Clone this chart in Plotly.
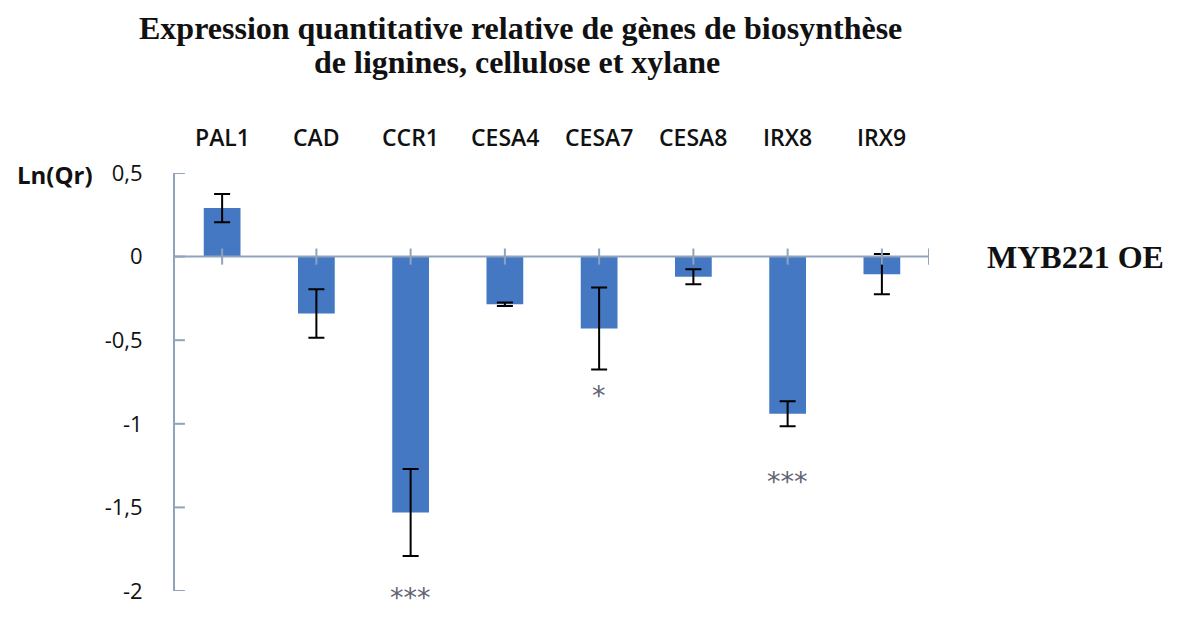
import plotly.graph_objects as go

# Gene names and ln(Qr) values for the MYB221 overexpressor
genes = ["PAL1", "CAD", "CCR1", "CESA4", "CESA7", "CESA8", "IRX8", "IRX9"]
ln_qr = [0.29, -0.34, -1.53, -0.285, -0.43, -0.12, -0.94, -0.105]
errors = [0.085, 0.145, 0.26, 0.01, 0.245, 0.045, 0.075, 0.12]
significance = ["", "", "***", "", "*", "", "***", ""]

y_tickvals = [0.5, 0, -0.5, -1, -1.5, -2]
y_ticktext = ["0,5", "0", "-0,5", "-1", "-1,5", "-2"]

BAR = "#4478C2"
AXIS = "#8FA3BC"
SANS = "'Open Sans', Lato, sans-serif"
SERIF = "'Liberation Serif', 'Times New Roman', serif"

FIG_W, FIG_H = 1187, 617
PX_LEFT, PX_RIGHT, PX_TOP, PX_BOTTOM = 175, 929, 173, 602


def above_top(py):
    """Pixel offset of a text line relative to the top edge of the plot area."""
    return PX_TOP - py


def paper_x(px):
    return (px - PX_LEFT) / (PX_RIGHT - PX_LEFT)


x_idx = list(range(len(genes)))

fig = go.Figure()
fig.add_trace(go.Bar(
    x=x_idx, y=ln_qr, width=0.39,
    marker=dict(color=BAR, line=dict(width=0)),
    error_y=dict(type="data", array=errors, visible=True,
                 color="black", thickness=2, width=8),
))

shapes = []
# horizontal axis through zero, with ticks crossing it at each category
shapes.append(dict(type="line", xref="x", yref="y", x0=-0.5, x1=7.5, y0=0, y1=0,
                   line=dict(color=AXIS, width=2), layer="above"))
tick_h = 0.048
for xv in x_idx + [7.5]:
    shapes.append(dict(type="line", xref="x", yref="y", x0=xv, x1=xv,
                       y0=-tick_h, y1=tick_h, line=dict(color=AXIS, width=2)))
# ticks crossing the vertical axis
for yv in y_tickvals:
    shapes.append(dict(type="line", xref="x", yref="y", x0=-0.5 - 0.105, x1=-0.5 + 0.105,
                       y0=yv, y1=yv, line=dict(color=AXIS, width=2)))

annotations = []
# two-line title
annotations.append(dict(x=paper_x(520), y=1, yshift=above_top(28), xref="paper", yref="paper",
                        text="<b>Expression quantitative relative de gènes de biosynthèse</b>",
                        showarrow=False, xanchor="center", yanchor="middle",
                        font=dict(family=SERIF, size=32, color="#111")))
annotations.append(dict(x=paper_x(517), y=1, yshift=above_top(62), xref="paper", yref="paper",
                        text="<b>de lignines, cellulose et xylane</b>",
                        showarrow=False, xanchor="center", yanchor="middle",
                        font=dict(family=SERIF, size=32, color="#111")))
# gene names above the plot
for xv, g in zip(x_idx, genes):
    annotations.append(dict(x=xv, y=1, yshift=above_top(137), xref="x", yref="paper",
                            text=g, showarrow=False, yanchor="middle",
                            font=dict(family=SANS, size=23, color="#111", weight=600)))
# significance stars below the error bars
star_gap = {"***": 0.2, "*": 0.105}
star_gap_override = {6: 0.28}
for i, s in enumerate(significance):
    if s:
        gap = star_gap_override.get(i, star_gap[s])
        annotations.append(dict(x=i, y=ln_qr[i] - errors[i] - gap, xref="x", yref="y",
                                text=s, showarrow=False, yanchor="middle", yshift=-8,
                                font=dict(family="DejaVu Sans", size=27, color="#5f6474")))
annotations.append(dict(x=paper_x(15), y=1, yshift=above_top(174), xref="paper", yref="paper",
                        text="<b>Ln(Qr)</b>", showarrow=False,
                        xanchor="left", yanchor="middle",
                        font=dict(family=SANS, size=24, color="#111")))
annotations.append(dict(x=paper_x(985), y=0, xref="paper", yref="y",
                        text="<b>MYB221 OE</b>", showarrow=False,
                        xanchor="left", yanchor="middle",
                        font=dict(family=SERIF, size=32, color="#111")))

fig.update_layout(
    width=FIG_W, height=FIG_H,
    margin=dict(l=PX_LEFT, r=FIG_W - PX_RIGHT, t=PX_TOP, b=FIG_H - PX_BOTTOM, pad=0),
    paper_bgcolor="white", plot_bgcolor="white",
    showlegend=False,
    xaxis=dict(range=[-0.5, 7.5], showticklabels=False, showgrid=False,
               zeroline=False, showline=False, ticks=""),
    yaxis=dict(range=[-2, 0.5], tickvals=y_tickvals, ticktext=y_ticktext,
               showgrid=False, zeroline=False, showline=True, linecolor=AXIS,
               linewidth=2, ticks="", ticklabelstandoff=26,
               tickfont=dict(family=SANS, size=22, color="#111")),
    shapes=shapes,
    annotations=annotations,
)

fig.write_html("out.html")
